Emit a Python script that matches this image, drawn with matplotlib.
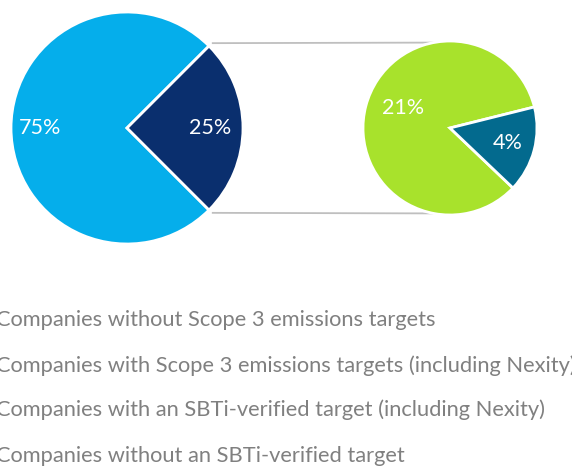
import numpy as np
import matplotlib
matplotlib.use("Agg")
import matplotlib.pyplot as plt

# Data
main_labels = ["Companies without Scope 3 emissions targets",
               "Companies with Scope 3 emissions targets (including Nexity)"]
main_values = [75, 25]
sub_labels = ["Companies with an SBTi-verified target (including Nexity)",
              "Companies without an SBTi-verified target"]
sub_values = [21, 4]
legend_labels = main_labels + sub_labels

main_colors = ["#05AEEB", "#0A2F6E"]
sub_colors = ["#A8E22C", "#036A8E"]
text_grey = "#808080"
line_grey = "#BFBFBF"

W, H = 572, 466
fig = plt.figure(figsize=(W / 100, H / 100), dpi=100)
ax = fig.add_axes([0, 0, 1, 1])

font = "Lato"

# main pie
c1 = (127, H - 128)
r1 = 116
w1, _ = ax.pie(main_values, colors=main_colors, startangle=45, counterclock=True,
               center=c1, radius=r1, frame=True,
               wedgeprops=dict(edgecolor="white", linewidth=2.0))
# sub pie
c2 = (450, H - 128)
r2 = 87
sub_start = 14
w2, _ = ax.pie(sub_values, colors=sub_colors, startangle=sub_start, counterclock=True,
               center=c2, radius=r2, frame=True,
               wedgeprops=dict(edgecolor="white", linewidth=2.0))
ax.set_xlim(0, W)
ax.set_ylim(0, H)
ax.set_aspect("equal")
ax.axis("off")

def put_labels(wedges, values, center, r, dists, dangs):
    for w, v, d, da in zip(wedges, values, dists, dangs):
        ang = np.deg2rad((w.theta1 + w.theta2) / 2 + da)
        x = center[0] + d * r * np.cos(ang)
        y = center[1] + d * r * np.sin(ang)
        ax.text(x, y, f"{v}%", color="white", fontsize=15.5, family=font,
                ha="center", va="center")

put_labels(w1, main_values, c1, r1, [0.75, 0.72], [0, 0])
put_labels(w2, sub_values, c2, r2, [0.59, 0.69], [-8, 0])

# connector lines from the small main wedge to the sub pie
small = w1[1]
for ang_main, ang_sub in [(small.theta2, 101), (small.theta1, 259)]:
    a = np.deg2rad(ang_main)
    b = np.deg2rad(ang_sub)
    x0 = c1[0] + (r1 + 4) * np.cos(a)
    y0 = c1[1] + (r1 + 4) * np.sin(a)
    x1 = c2[0] + r2 * np.cos(b)
    y1 = c2[1] + r2 * np.sin(b)
    ax.plot([x0, x1], [y0, y1], color=line_grey, linewidth=1.3, solid_capstyle="butt", zorder=0)

# legend text (markers fall outside the visible area)
baselines = [326.5, 371.5, 416.5, 461.5]
for lab, yb in zip(legend_labels, baselines):
    ax.text(-4, H - yb, lab, color=text_grey, fontsize=15.75, family=font,
            ha="left", va="baseline")

fig.savefig("out.png", dpi=100)
